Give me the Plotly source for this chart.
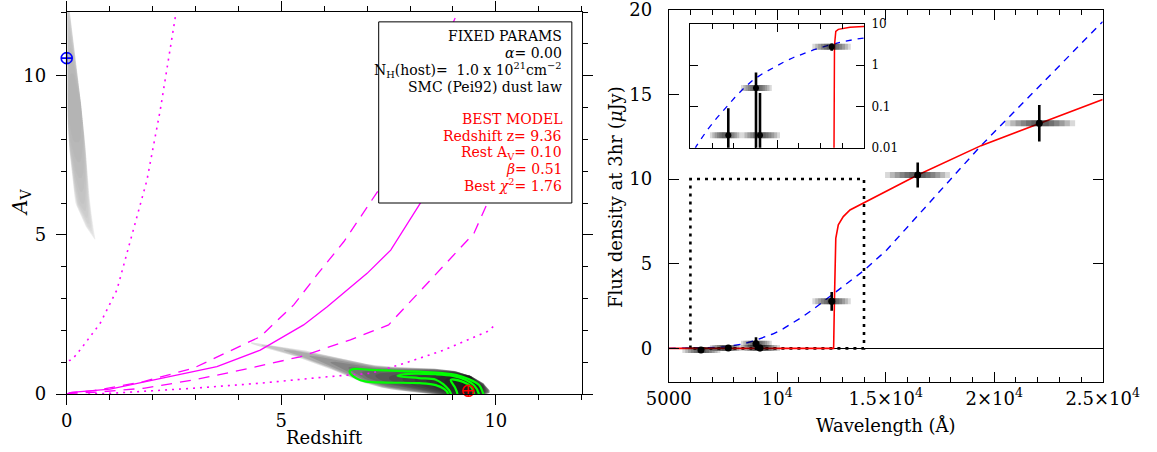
import numpy as np
import plotly.graph_objects as go

W, H = 1157, 452
SERIF = "DejaVu Serif"
MAGENTA = "#ff00ff"
GREEN = "#00ff00"

# ---------------- left panel: redshift vs rest-frame A_V ----------------
solid_z = [0.0, 0.12, 1.01, 2.18, 3.50, 4.51, 5.52, 6.07, 7.00, 7.55, 8.21, 8.27]
solid_av = [0.0, 0.05, 0.15, 0.49, 0.86, 1.38, 2.17, 2.74, 3.79, 4.52, 5.94, 6.06]
dashA_z = [0.0, 0.08, 0.62, 1.79, 2.95, 4.51, 5.29, 5.83, 6.46, 7.27, 9.10, 9.22]
dashA_av = [0.0, 0.04, 0.10, 0.39, 0.81, 1.80, 2.80, 3.74, 4.79, 6.41, 11.96, 12.4]
dashB_z = [0.0, 0.08, 0.62, 1.79, 2.95, 4.20, 5.44, 6.61, 7.50, 9.49, 9.80]
dashB_av = [0.0, 0.02, 0.05, 0.18, 0.44, 0.79, 1.17, 1.70, 2.17, 5.05, 5.99]
dotA_z = [0.05, 0.12, 0.31, 0.78, 1.17, 1.44, 1.87, 2.18, 2.41, 2.55]
dotA_av = [1.05, 1.07, 1.38, 2.22, 3.27, 4.63, 6.72, 8.92, 10.81, 12.0]
dotB_z = [0.5, 1.01, 2.95, 4.51, 6.07, 7.08, 7.86, 8.79, 9.80, 9.99]
dotB_av = [0.0, 0.02, 0.18, 0.34, 0.54, 0.65, 0.96, 1.38, 1.96, 2.17]

# probability ridge of the high-z solution (track, half width, relative density)
ridge_z = [4.3, 4.8, 5.5, 6.0, 6.5, 7.0, 7.5, 8.0, 8.5, 9.0, 9.4, 9.7, 9.85]
ridge_av = [1.6, 1.45, 1.25, 1.05, 0.85, 0.62, 0.5, 0.45, 0.40, 0.33, 0.22, 0.15, 0.08]
ridge_hw = [0.14, 0.27, 0.32, 0.40, 0.46, 0.50, 0.50, 0.50, 0.48, 0.44, 0.36, 0.24, 0.09]
ridge_p = [0.03, 0.10, 0.17, 0.23, 0.30, 0.40, 0.50, 0.60, 0.72, 0.88, 1.0, 0.75, 0.3]

# probability ridge of the low-z, dusty solution (listed by increasing A_V)
strip_av = [4.85, 5.3, 6.0, 7.0, 8.0, 9.0, 10.0, 11.0, 12.0]
strip_z = [0.66, 0.52, 0.37, 0.30, 0.23, 0.18, 0.13, 0.08, 0.04]
strip_hw = [0.03, 0.15, 0.21, 0.21, 0.20, 0.17, 0.13, 0.09, 0.05]
strip_p = [0.2, 0.5, 0.7, 0.85, 0.95, 1.0, 0.95, 0.8, 0.6]

# confidence contours
outer_z = [6.59, 6.67, 7.06, 7.83, 8.60, 9.07, 9.38, 9.61, 9.69, 9.72, 8.88, 8.88, 8.80, 8.60, 8.22, 7.44, 6.98, 6.75, 6.59]
outer_av = [0.70, 0.78, 0.76, 0.72, 0.67, 0.60, 0.46, 0.28, 0.07, -0.2, -0.2, 0.02, 0.15, 0.28, 0.34, 0.36, 0.39, 0.49, 0.70]
mid_z = [7.71, 7.85, 8.60, 9.00, 9.30, 9.50, 9.60, 9.62, 8.95, 8.95, 8.78, 8.60, 8.20, 7.71]
mid_av = [0.57, 0.62, 0.62, 0.57, 0.44, 0.26, 0.02, -0.2, -0.2, 0.02, 0.30, 0.45, 0.50, 0.57]
inner_z = [8.95, 9.22, 9.42, 9.49, 9.50, 9.10, 9.10, 9.05, 8.95]
inner_av = [0.44, 0.39, 0.23, 0.02, -0.2, -0.2, 0.02, 0.20, 0.44]

best_z, best_av, best_beta, best_chi2 = 9.36, 0.10, 0.51, 1.76
alt_z, alt_av = 0.0, 10.55

# ---------------- right panel: SED ----------------
band_name = ["g'", "r'", "i'", "z'", "J", "H", "K"]
lam_c = [6488, 7746, 9023, 9207, 12512, 16475, 22078]
lam_lo = [5630, 6900, 8330, 8360, 11620, 14970, 20500]
lam_hi = [7380, 8360, 9750, 10130, 13390, 17960, 23730]
flux = [-0.10, 0.02, 0.28, 0.02, 2.78, 10.24, 13.29]
flux_err = [0.10, 0.07, 0.38, 0.19, 0.55, 0.74, 1.08]

red_lam = [5000, 12600, 12640, 12700, 12816, 13046, 13355, 13968, 16475, 19392, 22078, 25000]
red_flux = [0.0, 0.0, 3.0, 6.5, 7.3, 7.78, 8.17, 8.57, 10.24, 11.97, 13.29, 14.7]
blue_lam = [5000, 6000, 6258, 6779, 7240, 7641, 8055, 8470, 8899, 9332, 9793, 10267, 10728,
            11203, 11696, 12157, 12512, 13046, 13664, 14000, 15046, 19392, 25000]
blue_flux = [0.001, 0.005, 0.0106, 0.027, 0.054, 0.095, 0.166, 0.278, 0.44, 0.62, 0.85, 1.15, 1.5,
             1.9, 2.35, 2.8, 3.15, 3.7, 4.25, 4.6, 5.81, 11.97, 19.29]

zoom_lam = [6000, 14000]
zoom_flux = [0, 10]

x_tickvals = [5000, 10000, 15000, 20000, 25000]
x_ticktext = ["5000", "10<sup>4</sup>", "1.5×10<sup>4</sup>", "2×10<sup>4</sup>", "2.5×10<sup>4</sup>"]
inset_tickvals = [0.01, 0.1, 1, 10]
inset_ticktext = ["0.01", "0.1", "1", "10"]


def pxx(x):
    return x / W


def pxy(y):
    return 1 - y / H


fig = go.Figure()


def smear(t, c, hw, p, alpha, levels, swap, xa, ya):
    """Layered translucent bands around a track: darker where the density is higher."""
    t = np.asarray(t, float)
    tt = np.linspace(t[0], t[-1], 160)
    cc = np.interp(tt, t, c)
    hh = np.interp(tt, t, hw)
    pp = np.interp(tt, t, p)
    for k in range(levels):
        thr = k / levels
        frac = np.clip((pp - thr) / (1 - thr), 0, 1)
        w = hh * np.sqrt(frac)
        keep = w > 0
        if keep.sum() < 2:
            continue
        a, cw, ww = tt[keep], cc[keep], w[keep]
        along = np.concatenate([a, a[::-1]])
        across = np.concatenate([cw + ww, (cw - ww)[::-1]])
        xs, ys = (across, along) if swap else (along, across)
        fig.add_trace(go.Scatter(x=xs, y=ys, mode="lines", fill="toself",
                                 fillcolor=f"rgba(0,0,0,{alpha})",
                                 line=dict(width=0, color="rgba(0,0,0,0)"),
                                 hoverinfo="skip", showlegend=False,
                                 xaxis=xa, yaxis=ya))


smear(strip_av, strip_z, strip_hw, strip_p, 0.018, 16, True, "x", "y")
smear(ridge_z, ridge_av, ridge_hw, ridge_p, 0.12, 16, False, "x", "y")


def line(x, y, color, dash="solid", width=1.3, xa="x", ya="y", shape="linear"):
    fig.add_trace(go.Scatter(x=x, y=y, mode="lines",
                             line=dict(color=color, dash=dash, width=width, shape=shape),
                             hoverinfo="skip", showlegend=False, xaxis=xa, yaxis=ya))


line(solid_z, solid_av, MAGENTA)
line(dashA_z, dashA_av, MAGENTA, dash="11px,8px")
line(dashB_z, dashB_av, MAGENTA, dash="11px,8px")
line(dotA_z, dotA_av, MAGENTA, dash="2px,5px", width=1.6)
line(dotB_z, dotB_av, MAGENTA, dash="2px,5px", width=1.6)

for cz, cav in [(outer_z, outer_av), (mid_z, mid_av), (inner_z, inner_av)]:
    line(cz, cav, GREEN, width=2.2, shape="spline")

fig.add_trace(go.Scatter(x=[best_z], y=[best_av], mode="markers",
                         marker=dict(symbol="circle-cross-open", size=11, color="red",
                                     line=dict(width=1.6, color="red")),
                         cliponaxis=False, showlegend=False, hoverinfo="skip"))
fig.add_trace(go.Scatter(x=[alt_z], y=[alt_av], mode="markers",
                         marker=dict(symbol="circle-cross-open", size=11, color="blue",
                                     line=dict(width=1.6, color="blue")),
                         cliponaxis=False, showlegend=False, hoverinfo="skip"))

# ---------------- right panel traces ----------------
fig.add_trace(go.Scatter(
    x=[zoom_lam[0], zoom_lam[0], zoom_lam[1], zoom_lam[1], zoom_lam[0]],
    y=[zoom_flux[0], zoom_flux[1], zoom_flux[1], zoom_flux[0], zoom_flux[0]],
    mode="lines", line=dict(color="black", dash="3px,5px", width=2.6),
    hoverinfo="skip", showlegend=False, xaxis="x2", yaxis="y2"))

line(blue_lam, blue_flux, "blue", dash="7px,6px", width=1.4, xa="x2", ya="y2")
line(red_lam, red_flux, "red", width=1.6, xa="x2", ya="y2")


def bands(xa, ya, values):
    fracs = [1.0, 0.85, 0.7, 0.55, 0.4, 0.25]
    for f in fracs:
        xs, ys = [], []
        for lo, hi, v in zip(lam_lo, lam_hi, values):
            mid, half = (lo + hi) / 2, (hi - lo) / 2
            xs += [mid - f * half, mid + f * half, None]
            ys += [v, v, None]
        fig.add_trace(go.Scatter(x=xs, y=ys, mode="lines",
                                 line=dict(color="rgba(0,0,0,0.15)", width=6),
                                 hoverinfo="skip", showlegend=False, xaxis=xa, yaxis=ya))


bands("x2", "y2", flux)
fig.add_trace(go.Scatter(x=lam_c, y=flux, mode="markers", text=band_name,
                         marker=dict(color="black", size=7),
                         error_y=dict(type="data", array=flux_err, color="black",
                                      thickness=2.6, width=0),
                         hoverinfo="skip", showlegend=False, xaxis="x2", yaxis="y2"))

# ---------------- inset (log flux) ----------------
red_flux_log = [v if v > 0 else 1e-4 for v in red_flux]
line(blue_lam, blue_flux, "blue", dash="6px,6px", width=1.3, xa="x3", ya="y3")
line(red_lam, red_flux_log, "red", width=1.5, xa="x3", ya="y3")
bands("x3", "y3", flux)
err_lo = [min(e, 0.9999 * f) if f > 0 else e for e, f in zip(flux_err, flux)]
fig.add_trace(go.Scatter(x=lam_c, y=flux, mode="markers",
                         marker=dict(color="black", size=6),
                         error_y=dict(type="data", array=flux_err, arrayminus=err_lo,
                                      color="black", thickness=2.6, width=0),
                         hoverinfo="skip", showlegend=False, xaxis="x3", yaxis="y3"))

# ---------------- layout ----------------
tickfont = dict(family=SERIF, size=18, color="black")
common = dict(showline=True, linecolor="black", linewidth=1, mirror="ticks",
              showgrid=False, zeroline=False, tickcolor="black", tickwidth=1,
              tickfont=tickfont, automargin=False, ticklabeloverflow="allow")

fig.update_layout(
    width=W, height=H, autosize=False,
    margin=dict(l=0, r=0, t=0, b=0, pad=0),
    paper_bgcolor="white", plot_bgcolor="white",
    showlegend=False,
    xaxis=dict(domain=[pxx(66.7), pxx(581.7)], range=[0, 12], tickvals=[0, 5, 10],
               ticks="outside", ticklen=10, anchor="y",
               minor=dict(dtick=1, tick0=0, ticks="outside", ticklen=5,
                          tickcolor="black", tickwidth=1, showgrid=False),
               **common),
    yaxis=dict(domain=[pxy(394), pxy(12)], range=[0, 12], tickvals=[0, 5, 10],
               ticks="outside", ticklen=10, anchor="x", ticklabelstandoff=6,
               minor=dict(dtick=1, tick0=0, ticks="outside", ticklen=5,
                          tickcolor="black", tickwidth=1, showgrid=False),
               **common),
    xaxis2=dict(domain=[pxx(668.7), pxx(1102.7)], range=[5000, 25000],
                tickvals=x_tickvals, ticktext=x_ticktext,
                ticks="inside", ticklen=10, anchor="y2", ticklabelstandoff=0,
                minor=dict(dtick=1000, tick0=5000, ticks="inside", ticklen=5,
                           tickcolor="black", tickwidth=1, showgrid=False),
                **common),
    yaxis2=dict(domain=[pxy(382.3), pxy(9.6)], range=[-2, 20], tickvals=[0, 5, 10, 15, 20],
                ticks="inside", ticklen=10, anchor="x2", ticklabelstandoff=12,
                **{**common, "zeroline": True, "zerolinecolor": "black", "zerolinewidth": 1}),
    xaxis3=dict(domain=[pxx(690.4), pxx(864)], range=[6000, 14000],
                tickvals=[10000], ticks="inside", ticklen=8, showticklabels=False,
                anchor="y3",
                minor=dict(dtick=1000, tick0=6000, ticks="inside", ticklen=5,
                           tickcolor="black", tickwidth=1, showgrid=False),
                **common),
    yaxis3=dict(domain=[pxy(147.7), pxy(23.7)], type="log", range=[-2, 1],
                tickvals=inset_tickvals, ticktext=inset_ticktext, side="right",
                ticks="inside", ticklen=8, anchor="x3", ticklabelstandoff=4,
                **{**common, "tickfont": dict(family=SERIF, size=12, color="black")}),
)

# parameter box
fig.add_shape(type="rect", xref="x", yref="y", x0=7.27, x1=11.77, y0=6.0, y1=11.69,
              fillcolor="white", line=dict(color="black", width=1), layer="above")

box_lines = [
    ("FIXED PARAMS", 36, "black"),
    ("<i>α</i>= 0.00", 53, "black"),
    ("N<sub>H</sub>(host)=  1.0 x 10<sup>21</sup>cm<sup>−2</sup>", 70, "black"),
    ("SMC (Pei92) dust law", 87, "black"),
    ("BEST MODEL", 119, "red"),
    (f"Redshift z= {best_z:.2f}", 136, "red"),
    (f"Rest A<sub>V</sub>= {best_av:.2f}", 153, "red"),
    (f"<i>β</i>= {best_beta:.2f}", 169, "red"),
    (f"Best <i>χ</i><sup>2</sup>= {best_chi2:.2f}", 185, "red"),
]
for txt, ypix, col in box_lines:
    fig.add_annotation(text=txt, xref="paper", yref="paper", x=pxx(564), y=pxy(ypix),
                       xanchor="right", yanchor="middle", showarrow=False,
                       font=dict(family=SERIF, size=14, color=col))

# axis titles
title_font = dict(family=SERIF, size=18, color="black")
fig.add_annotation(text="Redshift", xref="paper", yref="paper", x=pxx(324), y=pxy(437),
                   xanchor="center", yanchor="middle", showarrow=False, font=title_font)
fig.add_annotation(text="<i>A</i><sub>V</sub>", xref="paper", yref="paper", x=pxx(21), y=pxy(203),
                   xanchor="center", yanchor="middle", showarrow=False, textangle=-90,
                   font=dict(family=SERIF, size=20, color="black"))
fig.add_annotation(text="Wavelength (Å)", xref="paper", yref="paper", x=pxx(885.5), y=pxy(425),
                   xanchor="center", yanchor="middle", showarrow=False, font=title_font)
fig.add_annotation(text="Flux density at 3hr (<i>μ</i>Jy)", xref="paper", yref="paper",
                   x=pxx(615), y=pxy(197), xanchor="center", yanchor="middle",
                   showarrow=False, textangle=-90, font=title_font)

fig.write_html("out.html")
